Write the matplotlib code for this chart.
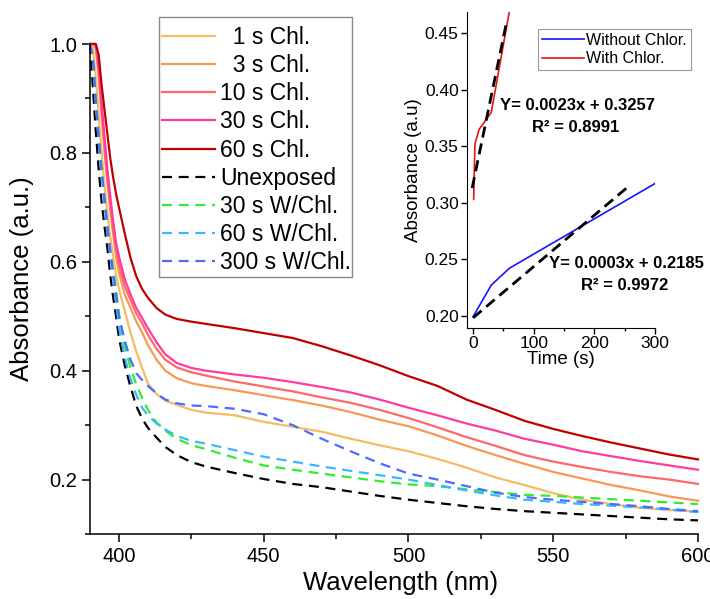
import matplotlib
matplotlib.use("Agg")
import matplotlib.pyplot as plt
from matplotlib.ticker import MultipleLocator, FormatStrFormatter
from matplotlib.patches import Rectangle

plt.rcParams['font.family'] = ['Liberation Sans', 'DejaVu Sans']

# ---------------- main spectra data ----------------
wavelength = [390, 391, 392, 393, 394, 395, 396, 397, 398, 399, 400, 402, 404, 406, 408, 410,
              413, 416, 420, 425, 430, 440, 450, 460, 470, 480, 490, 500, 510, 520, 530, 540,
              550, 560, 570, 580, 590, 600]

chl_1s = [1.0, 0.99, 0.94, 0.87, 0.80, 0.74, 0.69, 0.645, 0.61, 0.575, 0.55, 0.51, 0.47, 0.435, 0.405, 0.377,
          0.357, 0.345, 0.337, 0.328, 0.323, 0.318, 0.306, 0.297, 0.288, 0.275, 0.263, 0.252, 0.238, 0.222, 0.204, 0.19,
          0.175, 0.163, 0.155, 0.148, 0.144, 0.141]
chl_3s = [1.0, 1.0, 0.99, 0.94, 0.87, 0.80, 0.745, 0.695, 0.65, 0.61, 0.58, 0.54, 0.515, 0.49, 0.47, 0.447,
          0.42, 0.40, 0.386, 0.377, 0.372, 0.364, 0.355, 0.346, 0.336, 0.324, 0.31, 0.298, 0.281, 0.262, 0.245, 0.229,
          0.214, 0.202, 0.19, 0.18, 0.169, 0.161]
chl_10s = [1.0, 1.0, 1.0, 0.95, 0.88, 0.815, 0.755, 0.705, 0.66, 0.622, 0.595, 0.555, 0.53, 0.505, 0.487, 0.466,
           0.44, 0.42, 0.406, 0.397, 0.391, 0.38, 0.371, 0.362, 0.351, 0.341, 0.328, 0.313, 0.296, 0.278, 0.262, 0.245,
           0.233, 0.223, 0.214, 0.206, 0.2, 0.192]
chl_30s = [1.0, 1.0, 1.0, 0.96, 0.895, 0.83, 0.77, 0.72, 0.675, 0.635, 0.61, 0.568, 0.54, 0.515, 0.497, 0.478,
           0.452, 0.43, 0.414, 0.405, 0.40, 0.393, 0.387, 0.379, 0.37, 0.36, 0.347, 0.332, 0.318, 0.303, 0.29, 0.275,
           0.264, 0.252, 0.243, 0.234, 0.226, 0.218]
chl_60s = [1.0, 1.0, 1.0, 0.98, 0.925, 0.88, 0.835, 0.79, 0.755, 0.725, 0.70, 0.652, 0.607, 0.573, 0.55, 0.534,
           0.515, 0.503, 0.495, 0.49, 0.486, 0.478, 0.469, 0.46, 0.445, 0.428, 0.41, 0.39, 0.372, 0.347, 0.328, 0.308,
           0.293, 0.28, 0.268, 0.257, 0.246, 0.237]
unexposed = [1.0, 0.92, 0.84, 0.77, 0.71, 0.665, 0.625, 0.575, 0.535, 0.50, 0.46, 0.41, 0.37, 0.335, 0.312, 0.295,
             0.277, 0.26, 0.245, 0.232, 0.224, 0.212, 0.201, 0.192, 0.186, 0.178, 0.17, 0.163, 0.157, 0.151, 0.146, 0.142,
             0.139, 0.136, 0.133, 0.13, 0.127, 0.125]
wchl_30s = [1.0, 0.98, 0.90, 0.83, 0.77, 0.715, 0.665, 0.62, 0.585, 0.55, 0.505, 0.445, 0.405, 0.375, 0.35, 0.328,
            0.305, 0.29, 0.275, 0.263, 0.256, 0.24, 0.226, 0.218, 0.211, 0.204, 0.197, 0.191, 0.188, 0.182, 0.177, 0.172,
            0.17, 0.167, 0.164, 0.161, 0.158, 0.155]
wchl_60s = [1.0, 0.97, 0.89, 0.82, 0.76, 0.705, 0.655, 0.61, 0.57, 0.525, 0.48, 0.425, 0.385, 0.355, 0.332, 0.318,
            0.303, 0.292, 0.28, 0.271, 0.266, 0.254, 0.242, 0.233, 0.224, 0.216, 0.208, 0.2, 0.19, 0.18, 0.171, 0.163,
            0.159, 0.155, 0.152, 0.149, 0.145, 0.14]
wchl_300s = [1.0, 0.975, 0.895, 0.83, 0.77, 0.715, 0.665, 0.62, 0.58, 0.54, 0.50, 0.455, 0.42, 0.395, 0.383, 0.372,
             0.358, 0.347, 0.34, 0.336, 0.335, 0.33, 0.32, 0.30, 0.275, 0.252, 0.23, 0.211, 0.2, 0.188, 0.176, 0.168,
             0.163, 0.159, 0.155, 0.151, 0.146, 0.142]

series_labels = ['  1 s Chl.', '  3 s Chl.', '10 s Chl.', '30 s Chl.', '60 s Chl.',
                 'Unexposed', '30 s W/Chl.', '60 s W/Chl.', '300 s W/Chl.']

# ---------------- inset data ----------------
time_without = [0, 30, 60, 300]
abs_without = [0.199, 0.227, 0.242, 0.317]
time_with = [1, 3, 10, 30, 60]
abs_with = [0.303, 0.352, 0.365, 0.38, 0.47]
fit_with_t = [-1.5, 56]
fit_with_y = [0.313, 0.462]
fit_without_t = [0, 253]
fit_without_y = [0.198, 0.313]

W, H = 710, 599
fig = plt.figure(figsize=(W/100, H/100), dpi=100)
ax = fig.add_axes([90/W, 1-534/H, 608/W, 490/H])

solid_colors = ['#F4BC64', '#F89858', '#FF6868', '#FF3C9E', '#C00000']
dash_colors = ['#000000', '#2EEE2E', '#38B8FF', '#4D6BFF']
solid_series = [chl_1s, chl_3s, chl_10s, chl_30s, chl_60s]
dash_series = [unexposed, wchl_30s, wchl_60s, wchl_300s]

handles = []
for y, c, lab in zip(solid_series, solid_colors, series_labels[:5]):
    h, = ax.plot(wavelength, y, color=c, lw=1.6, label=lab, clip_on=False)
    handles.append(h)
for y, c, lab in zip(dash_series, dash_colors, series_labels[5:]):
    h, = ax.plot(wavelength, y, color=c, lw=1.6, ls=(0, (4.5, 3.0)), label=lab, clip_on=False)
    handles.append(h)

ax.set_xlim(390, 600)
ax.set_ylim(0.1, 1.0)
ax.xaxis.set_major_locator(MultipleLocator(50))
ax.xaxis.set_minor_locator(MultipleLocator(25))
ax.yaxis.set_major_locator(MultipleLocator(0.2))
ax.yaxis.set_minor_locator(MultipleLocator(0.1))
ax.yaxis.set_major_formatter(FormatStrFormatter('%.1f'))
for s in ['top', 'right']:
    ax.spines[s].set_visible(False)
for s in ['left', 'bottom']:
    ax.spines[s].set_linewidth(1.1)
ax.tick_params(which='major', direction='out', length=6, width=1.1, labelsize=14.5, pad=3)
ax.tick_params(which='minor', direction='out', length=3.5, width=1.1)
ax.set_xlabel('Wavelength (nm)', fontsize=18.5)
ax.set_ylabel('Absorbance (a.u.)', fontsize=18.5)
ax.xaxis.set_label_coords(0.51, -0.075)
ax.yaxis.set_label_coords(-0.092, 0.522)

# legend without its own frame; frame drawn as a separate rectangle
leg = fig.legend(handles=handles, loc='upper left', bbox_to_anchor=(162/W, 1-26/H),
                 bbox_transform=fig.transFigure, fontsize=16.5, frameon=False,
                 borderpad=0, handlelength=2.3, handletextpad=0.22, labelspacing=0.225,
                 borderaxespad=0)
leg.set_zorder(6)
frame = Rectangle((159/W, 1-277/H), (352-159)/W, (277-17)/H, transform=fig.transFigure,
                  fill=True, facecolor='white', edgecolor='#888888', lw=1.0, zorder=1)
fig.add_artist(frame)

# ---------------- inset ----------------
ins = fig.add_axes([467/W, 1-328/H, 188/W, 316/H])
hb, = ins.plot(time_without, abs_without, color='#1515FF', lw=1.2, label='Without Chlor.')
hr, = ins.plot(time_with, abs_with, color='#E01515', lw=1.2, label='With Chlor.')
ins.plot(fit_with_t, fit_with_y, color='black', lw=2.0, ls=(0, (4, 2.2)))
ins.plot(fit_without_t, fit_without_y, color='black', lw=2.0, ls=(0, (4, 2.2)))
ins.set_xlim(-10, 300)
ins.set_ylim(0.189, 0.469)
ins.xaxis.set_major_locator(MultipleLocator(100))
ins.xaxis.set_minor_locator(MultipleLocator(50))
ins.yaxis.set_major_locator(MultipleLocator(0.05))
ins.yaxis.set_major_formatter(FormatStrFormatter('%.2f'))
for s in ['top', 'right']:
    ins.spines[s].set_visible(False)
ins.tick_params(which='major', direction='out', length=4, width=1.0, labelsize=12.5, pad=2)
ins.tick_params(which='minor', direction='out', length=2.5, width=1.0)
ins.set_xlabel('Time (s)', fontsize=13.5, labelpad=0)
ins.set_ylabel('Absorbance (a.u)', fontsize=13.5, labelpad=2)
ins.patch.set_alpha(0)

ileg = ins.legend(handles=[hb, hr], loc='upper left', bbox_to_anchor=(538/W, 1-29/H),
                  bbox_transform=fig.transFigure, fontsize=11.5, frameon=True, fancybox=False,
                  edgecolor='#999999', framealpha=1, borderpad=0.25, handlelength=2.6,
                  handletextpad=0.15, labelspacing=0.2, borderaxespad=0)
ileg.get_frame().set_linewidth(0.8)

fig.text(578/W, 1-105/H, 'Y= 0.0023x + 0.3257', fontsize=12, fontweight='bold', ha='center', va='center')
fig.text(576/W, 1-127/H, 'R² = 0.8991', fontsize=12, fontweight='bold', ha='center', va='center')
fig.text(626/W, 1-263/H, 'Y= 0.0003x + 0.2185', fontsize=12, fontweight='bold', ha='center', va='center')
fig.text(625/W, 1-285/H, 'R² = 0.9972', fontsize=12, fontweight='bold', ha='center', va='center')

fig.savefig('out.png', dpi=100)
